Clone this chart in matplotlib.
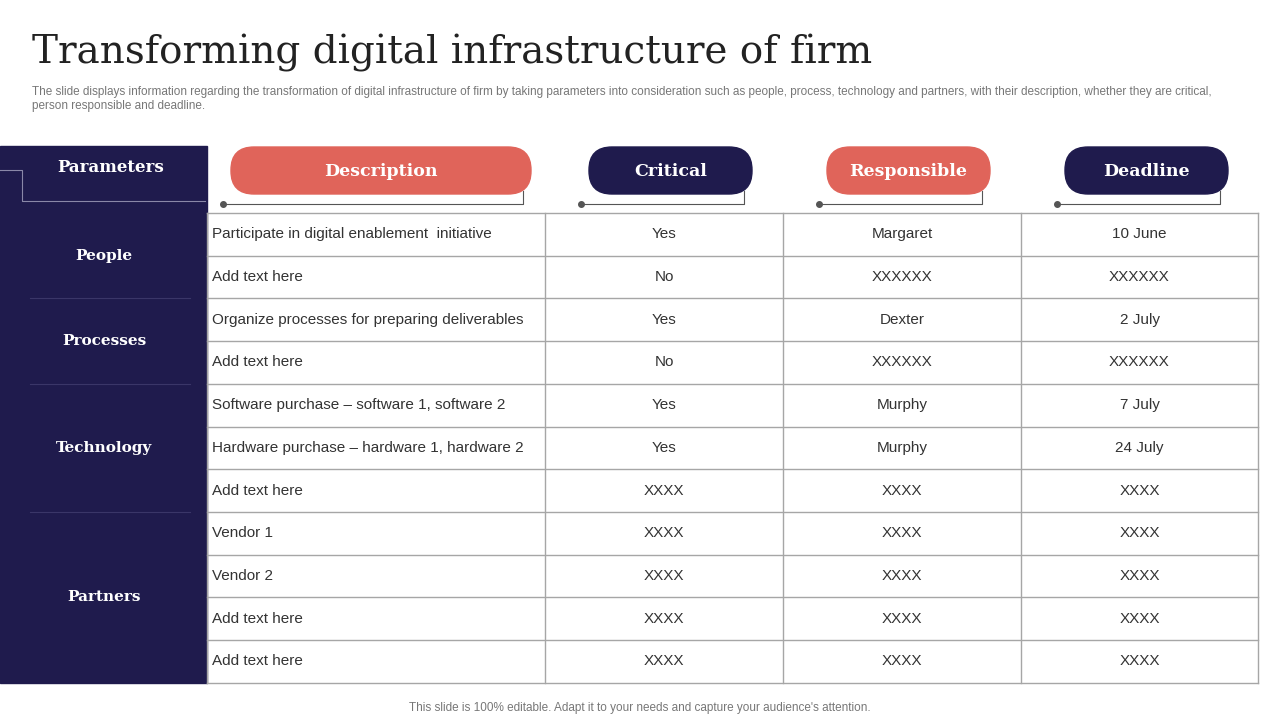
import matplotlib.pyplot as plt
from matplotlib.patches import Rectangle, FancyBboxPatch

navy = "#1f1b4d"
coral = "#e0645a"
grid = "#a6a6a6"
sans = ["Liberation Sans", "Arial", "DejaVu Sans"]

title = "Transforming digital infrastructure of firm"
subtitle = ("The slide displays information regarding the transformation of digital infrastructure of firm by taking parameters into consideration such as people, process, technology and partners, with their description, whether they are critical,\n"
            "person responsible and deadline.")
footer = "This slide is 100% editable. Adapt it to your needs and capture your audience's attention."

headers = ["Description", "Critical", "Responsible", "Deadline"]
groups = ["People", "Processes", "Technology", "Partners"]
group_rows = [2, 2, 3, 4]

description = ["Participate in digital enablement  initiative", "Add text here",
               "Organize processes for preparing deliverables", "Add text here",
               "Software purchase \u2013 software 1, software 2",
               "Hardware purchase \u2013 hardware 1, hardware 2",
               "Add text here", "Vendor 1", "Vendor 2", "Add text here", "Add text here"]
critical = ["Yes", "No", "Yes", "No", "Yes", "Yes", "XXXX", "XXXX", "XXXX", "XXXX", "XXXX"]
responsible = ["Margaret", "XXXXXX", "Dexter", "XXXXXX", "Murphy", "Murphy",
               "XXXX", "XXXX", "XXXX", "XXXX", "XXXX"]
deadline = ["10 June", "XXXXXX", "2 July", "XXXXXX", "7 July", "24 July",
            "XXXX", "XXXX", "XXXX", "XXXX", "XXXX"]

fig = plt.figure(figsize=(12.8, 7.2), dpi=100)
ax = fig.add_axes([0, 0, 1, 1])
ax.set_xlim(0, 1280)
ax.set_ylim(720, 0)
ax.axis("off")

ax.text(32, 53, title, fontsize=28, family="DejaVu Serif", color="#222222", va="center")
ax.text(32, 99, subtitle, fontsize=8.5, family=sans, color="#777777",
        va="center", linespacing=1.2)
ax.text(640, 708, footer, fontsize=8.5, family=sans, color="#777777",
        ha="center", va="center")

# left panel
ax.add_patch(Rectangle((0, 146), 207, 537, color=navy))
ax.text(111, 168, "Parameters", color="white", fontsize=12, family="DejaVu Serif",
        weight="bold", ha="center", va="center")
ax.plot([0, 22, 22, 205], [170, 170, 201, 201], color="#8a88a8", lw=0.8)

x_cols = [207, 545, 783, 1021, 1258]
y0, rh = 213, 42.7
n = len(description)

start = 0
for g, k in zip(groups, group_rows):
    yc = y0 + (start + k / 2) * rh
    ax.text(104, yc, g, color="white", fontsize=11, family="DejaVu Serif",
            weight="bold", ha="center", va="center")
    start += k
    if start < n:
        ax.plot([30, 190], [y0 + start * rh] * 2, color="#3a3668", lw=0.8)

# header pills
pills = [(231, 531), (589, 752), (827, 990), (1065, 1228)]
for i, (h, (a, b)) in enumerate(zip(headers, pills)):
    c = coral if i % 2 == 0 else navy
    ax.add_patch(FancyBboxPatch((a, 147), b - a, 47,
                                boxstyle="round,pad=0,rounding_size=23",
                                mutation_aspect=1, color=c))
    ax.text((a + b) / 2, 171, h, color="white", fontsize=12.5, family="DejaVu Serif",
            weight="bold", ha="center", va="center")
    dx = a - 8
    ex = b - 8
    ax.plot([dx, ex, ex], [204, 204, 191], color="#555555", lw=0.8)
    ax.plot(dx, 204, "o", color="#555555", ms=4)

# table grid
for i in range(n + 1):
    ax.plot([x_cols[0], x_cols[-1]], [y0 + i * rh] * 2, color=grid, lw=1)
for x in x_cols:
    ax.plot([x, x], [y0, y0 + n * rh], color=grid, lw=1)

cols = [description, critical, responsible, deadline]
for i in range(n):
    yc = y0 + (i + 0.5) * rh
    for j, col in enumerate(cols):
        if j == 0:
            ax.text(212, yc, col[i], fontsize=11, family=sans,
                    color="#333333", va="center")
        else:
            ax.text((x_cols[j] + x_cols[j + 1]) / 2, yc, col[i], fontsize=11,
                    family=sans, color="#333333", ha="center", va="center")

fig.savefig("out.png", dpi=100)
